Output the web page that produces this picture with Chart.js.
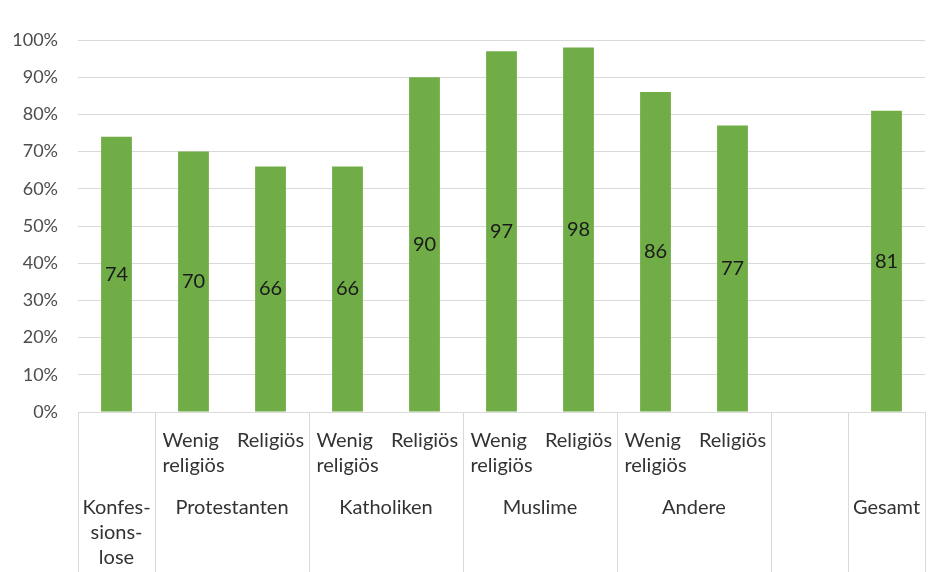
<!DOCTYPE html>
<html>
<head>
<meta charset="utf-8">
<script src="https://cdn.jsdelivr.net/npm/chart.js@4.4.1/dist/chart.umd.min.js"></script>
<style>
  html, body { margin: 0; padding: 0; background: #fff; }
  #wrap { width: 941px; height: 572px; }
</style>
</head>
<body>
<div id="wrap"><canvas id="chart" width="941" height="572"></canvas></div>
<script>
// --- DONNÉES ---
const values = [74, 70, 66, 66, 90, 97, 98, 86, 77, null, 81];
const subLabels = [
  [], ['Wenig', 'religiös'], ['Religiös'], ['Wenig', 'religiös'], ['Religiös'],
  ['Wenig', 'religiös'], ['Religiös'], ['Wenig', 'religiös'], ['Religiös'], [], []
];
const groupLabels = [['Konfes-', 'sions-', 'lose'], ['Protestanten'], ['Katholiken'], ['Muslime'], ['Andere'], [], ['Gesamt']];
const groupFirst = [0, 1, 3, 5, 7, 9, 10];
const groupLast  = [0, 2, 4, 6, 8, 9, 10];
const yTicks = [0, 10, 20, 30, 40, 50, 60, 70, 80, 90, 100];

const FONT = 'Lato, "Open Sans", sans-serif';
const GRID = '#d9d9d9';

// --- AXE X À DEUX NIVEAUX (dessiné à la main) ---
const multiAxis = {
  id: 'multiAxis',
  afterDraw(chart) {
    const ctx = chart.ctx;
    const x = chart.scales.x;
    const area = chart.chartArea;
    const half = (x.getPixelForValue(1) - x.getPixelForValue(0)) / 2;
    ctx.save();
    ctx.strokeStyle = GRID;
    ctx.lineWidth = 1;
    // séparateurs verticaux
    const edges = groupFirst.map(i => x.getPixelForValue(i) - half);
    edges.push(x.getPixelForValue(values.length - 1) + half);
    edges.forEach(px => {
      const p = Math.round(px) + 0.5;
      ctx.beginPath();
      ctx.moveTo(p, area.bottom);
      ctx.lineTo(p, chart.height);
      ctx.stroke();
    });
    ctx.fillStyle = '#333333';
    ctx.font = '20px ' + FONT;
    ctx.textBaseline = 'middle';
    // sous-catégories : bloc aligné à gauche, centré dans la case
    subLabels.forEach((lines, i) => {
      if (!lines.length) return;
      const w = Math.max(...lines.map(l => ctx.measureText(l).width));
      const cx = x.getPixelForValue(i);
      ctx.textAlign = 'left';
      lines.forEach((l, k) => ctx.fillText(l, cx - w / 2, 441 + k * 25));
    });
    // groupes
    ctx.textAlign = 'center';
    groupLabels.forEach((lines, g) => {
      const cx = (x.getPixelForValue(groupFirst[g]) + x.getPixelForValue(groupLast[g])) / 2;
      lines.forEach((l, k) => ctx.fillText(l, cx, 508 + k * 25));
    });
    ctx.restore();
  }
};

// --- ÉTIQUETTES DANS LES BARRES ---
const barLabels = {
  id: 'barLabels',
  afterDatasetsDraw(chart) {
    const ctx = chart.ctx;
    const meta = chart.getDatasetMeta(0);
    ctx.save();
    ctx.fillStyle = '#1a1a1a';
    ctx.font = '20px ' + FONT;
    ctx.textAlign = 'center';
    ctx.textBaseline = 'middle';
    meta.data.forEach((bar, i) => {
      if (values[i] == null) return;
      ctx.fillText(String(values[i]), bar.x, (bar.y + bar.base) / 2);
    });
    ctx.restore();
  }
};

new Chart(document.getElementById('chart'), {
  type: 'bar',
  data: {
    labels: values.map((v, i) => String(i)),
    datasets: [{
      data: values,
      backgroundColor: '#70ad47',
      categoryPercentage: 1,
      barPercentage: 0.4
    }]
  },
  options: {
    responsive: false,
    animation: false,
    layout: { padding: { left: 0, right: 16, top: 40, bottom: 0 } },
    plugins: { legend: { display: false }, tooltip: { enabled: false } },
    scales: {
      x: {
        grid: { display: false, drawTicks: false },
        border: { display: false },
        ticks: { display: false },
        afterFit(scale) { scale.height = 160; }
      },
      y: {
        min: 0, max: 100,
        afterBuildTicks(scale) { scale.ticks = yTicks.map(v => ({ value: v })); },
        grid: { color: GRID, drawTicks: false },
        border: { display: false },
        ticks: {
          padding: 20,
          color: '#4d4d4d',
          font: { family: FONT, size: 18 },
          callback: v => v + '%'
        },
        afterFit(scale) { scale.width = 78; }
      }
    }
  },
  plugins: [multiAxis, barLabels]
});
</script>
</body>
</html>
